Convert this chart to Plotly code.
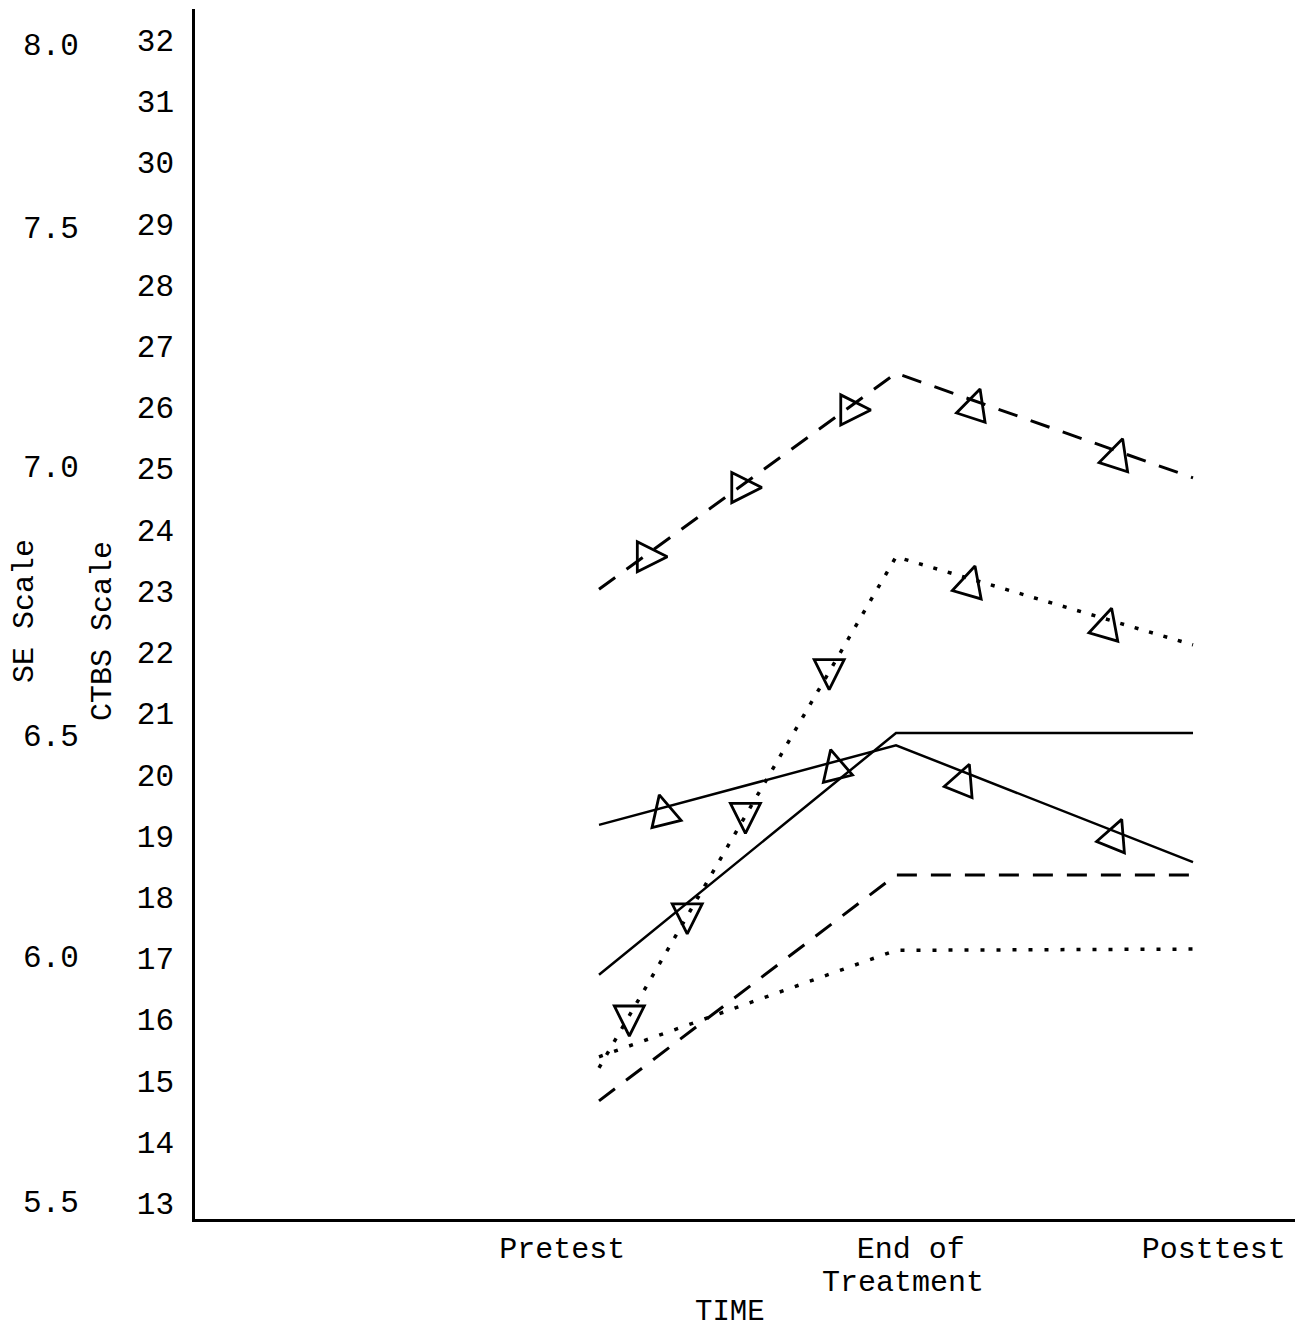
import plotly.graph_objects as go

# ---------------- data (CTBS scale units) ----------------
time_x = [1, 2, 3]
time_labels = ["Pretest", "End of", "Posttest"]
time_label_pos = [0.876, 2.05, 3.07]
time_label_2nd = "Treatment"
time_label_2nd_pos = 2.024

ctbs_ticks = list(range(13, 33))
se_labels = ["5.5", "6.0", "6.5", "7.0", "7.5", "8.0"]
se_label_pos = [13.0, 17.0, 20.6, 25.0, 28.9, 31.9]

dashed_tri = [23.03, 26.56, 24.85]
dotted_tri = [15.21, 23.56, 22.12]
solid_tri = [19.18, 20.48, 18.57]
solid_plain = [16.73, 20.68, 20.68]
dashed_plain = [14.67, 18.36, 18.36]
dotted_plain = [15.39, 17.13, 17.15]

# triangle markers (tip positions)
dashed_rise_x = [1.230, 1.548, 1.915]
dashed_rise_y = [23.56, 24.69, 25.96]
dashed_fall_x = [2.283, 2.763]
dashed_fall_y = [26.30, 25.49]
dotted_rise_x = [1.102, 1.297, 1.493, 1.775]
dotted_rise_y = [15.73, 17.40, 19.04, 21.39]
dotted_fall_x = [2.266, 2.726]
dotted_fall_y = [23.41, 22.72]
solid_rise_x = [1.203, 1.780]
solid_rise_y = [19.67, 20.41]
solid_fall_x = [2.247, 2.760]
solid_fall_y = [20.17, 19.27]

# ---------------- layout geometry (target picture pixels) ----------------
W, H = 1311, 1332
OFF = 8  # default page margin of the html body
L, R, T, B = 195, 1295, 9, 1219
FONT = "Liberation Mono"
INK = "black"


def px(xp):
    return (xp - L) / (R - L)


def py(yp):
    return (B - yp) / (B - T)


fig = go.Figure()

DASH = "20px,14px"
DOT = "4px,11px"

line_specs = [
    (dashed_tri, DASH, 3),
    (dotted_tri, DOT, 3.5),
    (solid_tri, "solid", 2.5),
    (solid_plain, "solid", 2.5),
    (dashed_plain, DASH, 3),
    (dotted_plain, "4px,12px", 3.5),
]
for ys, dash, w in line_specs:
    fig.add_trace(go.Scatter(x=time_x, y=ys, mode="lines",
                             line=dict(color=INK, width=w, dash=dash),
                             hoverinfo="skip", showlegend=False))

MS = 30
marker_specs = [
    (dashed_rise_x, dashed_rise_y, "arrow-right-open", 0),
    (dashed_fall_x, dashed_fall_y, "arrow-up-open", 18),
    (dotted_rise_x, dotted_rise_y, "arrow-down-open", 0),
    (dotted_fall_x, dotted_fall_y, "arrow-up-open", 16),
    (solid_rise_x, solid_rise_y, "arrow-up-open", -14),
    (solid_fall_x, solid_fall_y, "arrow-up-open", 22),
]
for xs, ys, sym, ang in marker_specs:
    fig.add_trace(go.Scatter(x=xs, y=ys, mode="markers",
                             marker=dict(symbol=sym, size=MS, angle=ang,
                                         color=INK, line=dict(color=INK, width=2.8)),
                             hoverinfo="skip", showlegend=False))

annotations = []
for lab, pos in zip(se_labels, se_label_pos):
    annotations.append(dict(x=px(81), y=pos, xref="paper", yref="y",
                            text=lab, showarrow=False, xanchor="right", yanchor="middle",
                            font=dict(family=FONT, size=31, color=INK)))

annotations += [
    dict(x=px(25), y=py(611), xref="paper", yref="paper", text="SE Scale",
         textangle=-90, showarrow=False, xanchor="center", yanchor="middle",
         font=dict(family=FONT, size=30, color=INK)),
    dict(x=px(103), y=py(631), xref="paper", yref="paper", text="CTBS Scale",
         textangle=-90, showarrow=False, xanchor="center", yanchor="middle",
         font=dict(family=FONT, size=30, color=INK)),
    dict(x=time_label_2nd_pos, y=py(1283), xref="x", yref="paper", text=time_label_2nd,
         showarrow=False, xanchor="center", yanchor="middle",
         font=dict(family=FONT, size=30, color=INK)),
    dict(x=px(730), y=py(1331), xref="paper", yref="paper", text="TIME",
         showarrow=False, xanchor="center", yanchor="bottom",
         font=dict(family=FONT, size=29, color=INK)),
]

fig.update_layout(
    width=W - OFF, height=H - OFF,
    margin=dict(l=L - OFF, r=(W - OFF) - (R - OFF), t=T - OFF, b=(H - OFF) - (B - OFF), pad=0),
    paper_bgcolor="white", plot_bgcolor="white",
    font=dict(family=FONT, size=31, color=INK),
    showlegend=False,
    annotations=annotations,
    xaxis=dict(range=[-0.3603, 3.3434], tickmode="array", tickvals=time_label_pos,
               ticktext=time_labels, showline=True, linecolor=INK, linewidth=2.5,
               showgrid=False, zeroline=False, ticks="", ticklabelstandoff=0,
               tickfont=dict(family=FONT, size=30, color=INK)),
    yaxis=dict(range=[12.74, 32.51], tickmode="array", tickvals=ctbs_ticks,
               ticktext=[str(v) for v in ctbs_ticks], showline=True, linecolor=INK,
               linewidth=2.5, showgrid=False, zeroline=False, ticks="",
               ticklabelstandoff=12, tickfont=dict(family=FONT, size=31, color=INK)),
)

fig.write_html("out.html")
